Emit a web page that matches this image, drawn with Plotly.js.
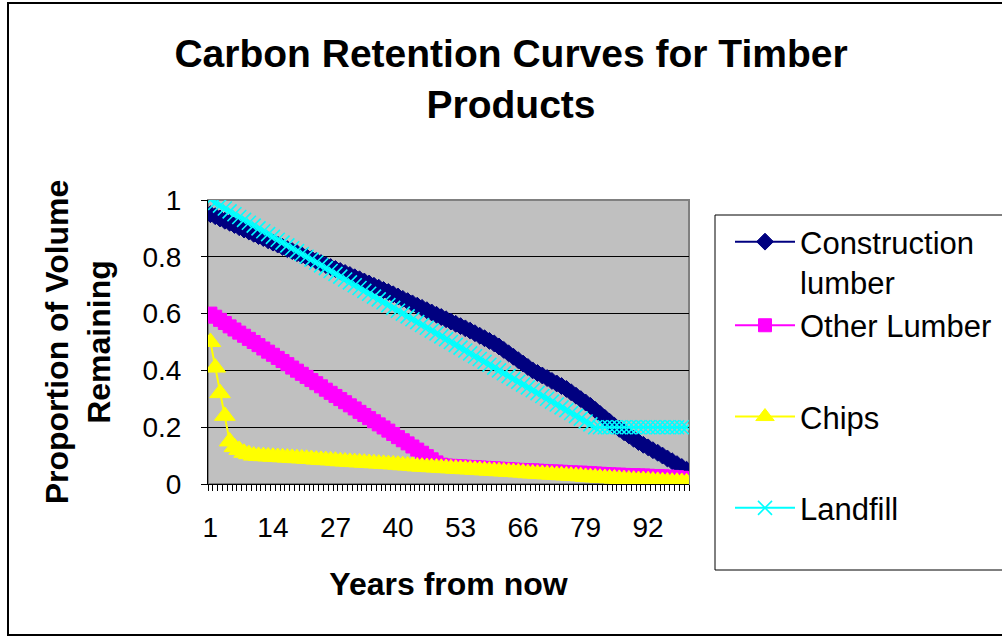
<!DOCTYPE html>
<html>
<head>
<meta charset="utf-8">
<script src="https://cdn.plot.ly/plotly-3.0.1.min.js"></script>
<style>
  html, body { margin: 0; padding: 0; background: #fff; overflow: hidden; }
  #chart { width: 1002px; height: 637px; }
  #frame { position: absolute; left: 7px; top: 2px; width: 1100px; height: 630px; border: 2px solid #000; pointer-events: none; }
</style>
</head>
<body>
<div id="chart"></div>
<div id="frame"></div>
<script>
// Years (categories)
const years = [1,2,3,4,5,6,7,8,9,10,11,12,13,14,15,16,17,18,19,20,
  21,22,23,24,25,26,27,28,29,30,31,32,33,34,35,36,37,38,39,40,
  41,42,43,44,45,46,47,48,49,50,51,52,53,54,55,56,57,58,59,60,
  61,62,63,64,65,66,67,68,69,70,71,72,73,74,75,76,77,78,79,80,
  81,82,83,84,85,86,87,88,89,90,91,92,93,94,95,96,97,98,99,100];

const tickYears = [1,14,27,40,53,66,79,92];
const tickLabels = ['1','14','27','40','53','66','79','92'];

const constructionLumber = [0.950,0.943,0.935,0.927,0.920,0.912,0.904,0.896,0.889,0.881,
  0.873,0.866,0.858,0.850,0.843,0.835,0.827,0.820,0.813,0.806,
  0.799,0.792,0.785,0.778,0.771,0.764,0.757,0.750,0.743,0.736,
  0.728,0.721,0.713,0.706,0.698,0.691,0.683,0.676,0.668,0.660,
  0.652,0.644,0.636,0.628,0.620,0.612,0.604,0.596,0.588,0.580,
  0.572,0.564,0.556,0.548,0.540,0.531,0.522,0.513,0.504,0.495,
  0.484,0.472,0.460,0.448,0.436,0.424,0.412,0.400,0.391,0.382,
  0.373,0.363,0.354,0.345,0.335,0.323,0.311,0.299,0.287,0.275,
  0.261,0.247,0.233,0.219,0.205,0.194,0.182,0.171,0.159,0.148,
  0.138,0.129,0.119,0.110,0.100,0.090,0.080,0.070,0.060,0.050];

const otherLumber = [0.600,0.589,0.578,0.567,0.555,0.544,0.533,0.522,0.511,0.500,
  0.489,0.477,0.466,0.455,0.444,0.433,0.422,0.410,0.399,0.388,
  0.377,0.366,0.355,0.344,0.332,0.321,0.310,0.299,0.288,0.277,
  0.266,0.254,0.243,0.232,0.221,0.210,0.199,0.188,0.176,0.165,
  0.154,0.143,0.132,0.121,0.110,0.098,0.087,0.076,0.068,0.065,
  0.064,0.063,0.062,0.061,0.060,0.059,0.058,0.057,0.056,0.055,
  0.054,0.053,0.052,0.051,0.050,0.049,0.048,0.048,0.047,0.046,
  0.045,0.044,0.044,0.043,0.042,0.041,0.040,0.040,0.039,0.038,
  0.037,0.036,0.035,0.034,0.033,0.033,0.032,0.031,0.031,0.030,
  0.030,0.029,0.028,0.028,0.027,0.026,0.025,0.024,0.022,0.020];

const chips = [0.500,0.410,0.320,0.240,0.150,0.130,0.120,0.110,0.105,0.100,
  0.099,0.098,0.097,0.096,0.095,0.094,0.093,0.092,0.091,0.090,
  0.089,0.088,0.086,0.085,0.084,0.083,0.082,0.080,0.079,0.078,
  0.077,0.076,0.075,0.074,0.073,0.072,0.071,0.070,0.069,0.068,
  0.066,0.065,0.064,0.062,0.061,0.060,0.059,0.058,0.057,0.056,
  0.055,0.054,0.053,0.052,0.051,0.050,0.049,0.048,0.047,0.046,
  0.045,0.044,0.043,0.042,0.041,0.040,0.038,0.037,0.036,0.035,
  0.034,0.033,0.032,0.031,0.030,0.029,0.028,0.027,0.025,0.024,
  0.023,0.022,0.021,0.020,0.019,0.018,0.017,0.016,0.015,0.014,
  0.014,0.013,0.012,0.011,0.010,0.009,0.008,0.008,0.007,0.006];

const landfill = [1.00,0.99,0.98,0.97,0.96,0.95,0.94,0.93,0.92,0.91,
  0.90,0.89,0.88,0.87,0.86,0.85,0.84,0.83,0.82,0.81,
  0.80,0.79,0.78,0.77,0.76,0.75,0.74,0.73,0.72,0.71,
  0.70,0.69,0.68,0.67,0.66,0.65,0.64,0.63,0.62,0.61,
  0.60,0.59,0.58,0.57,0.56,0.55,0.54,0.53,0.52,0.51,
  0.50,0.49,0.48,0.47,0.46,0.45,0.44,0.43,0.42,0.41,
  0.40,0.39,0.38,0.37,0.36,0.35,0.34,0.33,0.32,0.31,
  0.30,0.29,0.28,0.27,0.26,0.25,0.24,0.23,0.22,0.21,
  0.20,0.20,0.20,0.20,0.20,0.20,0.20,0.20,0.20,0.20,
  0.20,0.20,0.20,0.20,0.20,0.20,0.20,0.20,0.20,0.20];

const FONT = 'Liberation Sans, Arial, Helvetica, sans-serif';

function series(name, y, color, symbol, size, lw, group) {
  return {
    type: 'scatter', mode: 'lines+markers', name: name, x: years, y: y,
    legendgroup: group,
    line: { color: color, width: 2 },
    marker: { color: color, symbol: symbol, size: size, line: { color: color, width: lw } },
    hoverinfo: 'x+y+name'
  };
}

const data = [
  series('Construction<br>lumber', constructionLumber, '#000080', 'diamond', 13, 1, 'g1'),
  series('Other Lumber', otherLumber, '#FF00FF', 'square', 13, 1, 'g1'),
  series('Chips', chips, '#FFFF00', 'triangle-up', 18, 1, 'g2'),
  series('Landfill', landfill, '#00FFFF', 'x-thin-open', 14, 1.6, 'g3')
];

// plot area in pixels: x 208..689, y 200..484
const px = v => (v - 208) / 481;
const py = v => (484 - v) / 284;

const layout = {
  width: 1002, height: 637,
  margin: { l: 208, r: 313, t: 200, b: 153, pad: 0, autoexpand: false },
  paper_bgcolor: '#FFFFFF',
  plot_bgcolor: '#C0C0C0',
  font: { family: FONT, color: '#000000' },
  title: {
    text: '<b>Carbon Retention Curves for Timber<br>Products</b>',
    font: { family: FONT, size: 39, color: '#000000' },
    x: 0.51, xref: 'container', xanchor: 'center',
    y: 1 - 67 / 637, yref: 'container', yanchor: 'middle'
  },
  xaxis: {
    type: 'linear', range: [0.5, 100.5], fixedrange: true,
    tickmode: 'array', tickvals: tickYears, ticktext: tickLabels,
    ticks: '', showgrid: false, zeroline: false,
    showline: true, linecolor: '#000000', linewidth: 1,
    tickfont: { family: FONT, size: 28, color: '#000000' },
    ticklabelstandoff: 18,
    minor: { tickmode: 'linear', tick0: 0.5, dtick: 1, ticks: 'outside', ticklen: 6, tickcolor: '#000000', tickwidth: 1, showgrid: false },
    title: { text: '<b>Years from now</b>', font: { family: FONT, size: 32, color: '#000000' }, standoff: 31 }
  },
  yaxis: {
    range: [0, 1], fixedrange: true, dtick: 0.2, tick0: 0,
    ticks: 'outside', ticklen: 6, tickcolor: '#000000', tickwidth: 1,
    showgrid: true, gridcolor: '#000000', gridwidth: 1, zeroline: false,
    showline: true, linecolor: '#000000', linewidth: 1,
    tickfont: { family: FONT, size: 28, color: '#000000' },
    ticklabelstandoff: 14,
    title: { text: '<b>Proportion of Volume<br>Remaining</b>', font: { family: FONT, size: 32, color: '#000000' }, standoff: 22 }
  },
  shapes: [
    { type: 'rect', xref: 'paper', yref: 'paper', x0: 0, x1: 1, y0: 0, y1: 1, line: { color: '#808080', width: 2 }, layer: 'below' },
    // legend frame
    { type: 'rect', xref: 'paper', yref: 'paper', x0: px(715), x1: px(1030), y0: py(570), y1: py(215), line: { color: '#000000', width: 1 }, fillcolor: '#FFFFFF', layer: 'below' }
  ],
  showlegend: true,
  legend: {
    x: px(730), xanchor: 'left', xref: 'paper',
    y: py(215), yanchor: 'top', yref: 'paper',
    bgcolor: 'rgba(0,0,0,0)', borderwidth: 0,
    font: { family: FONT, size: 31, color: '#000000' },
    valign: 'top', tracegroupgap: 48, traceorder: 'grouped',
    itemwidth: 60, maxheight: 600
  }
};

Plotly.newPlot('chart', data, layout, { displayModeBar: false, staticPlot: true });
</script>
</body>
</html>
